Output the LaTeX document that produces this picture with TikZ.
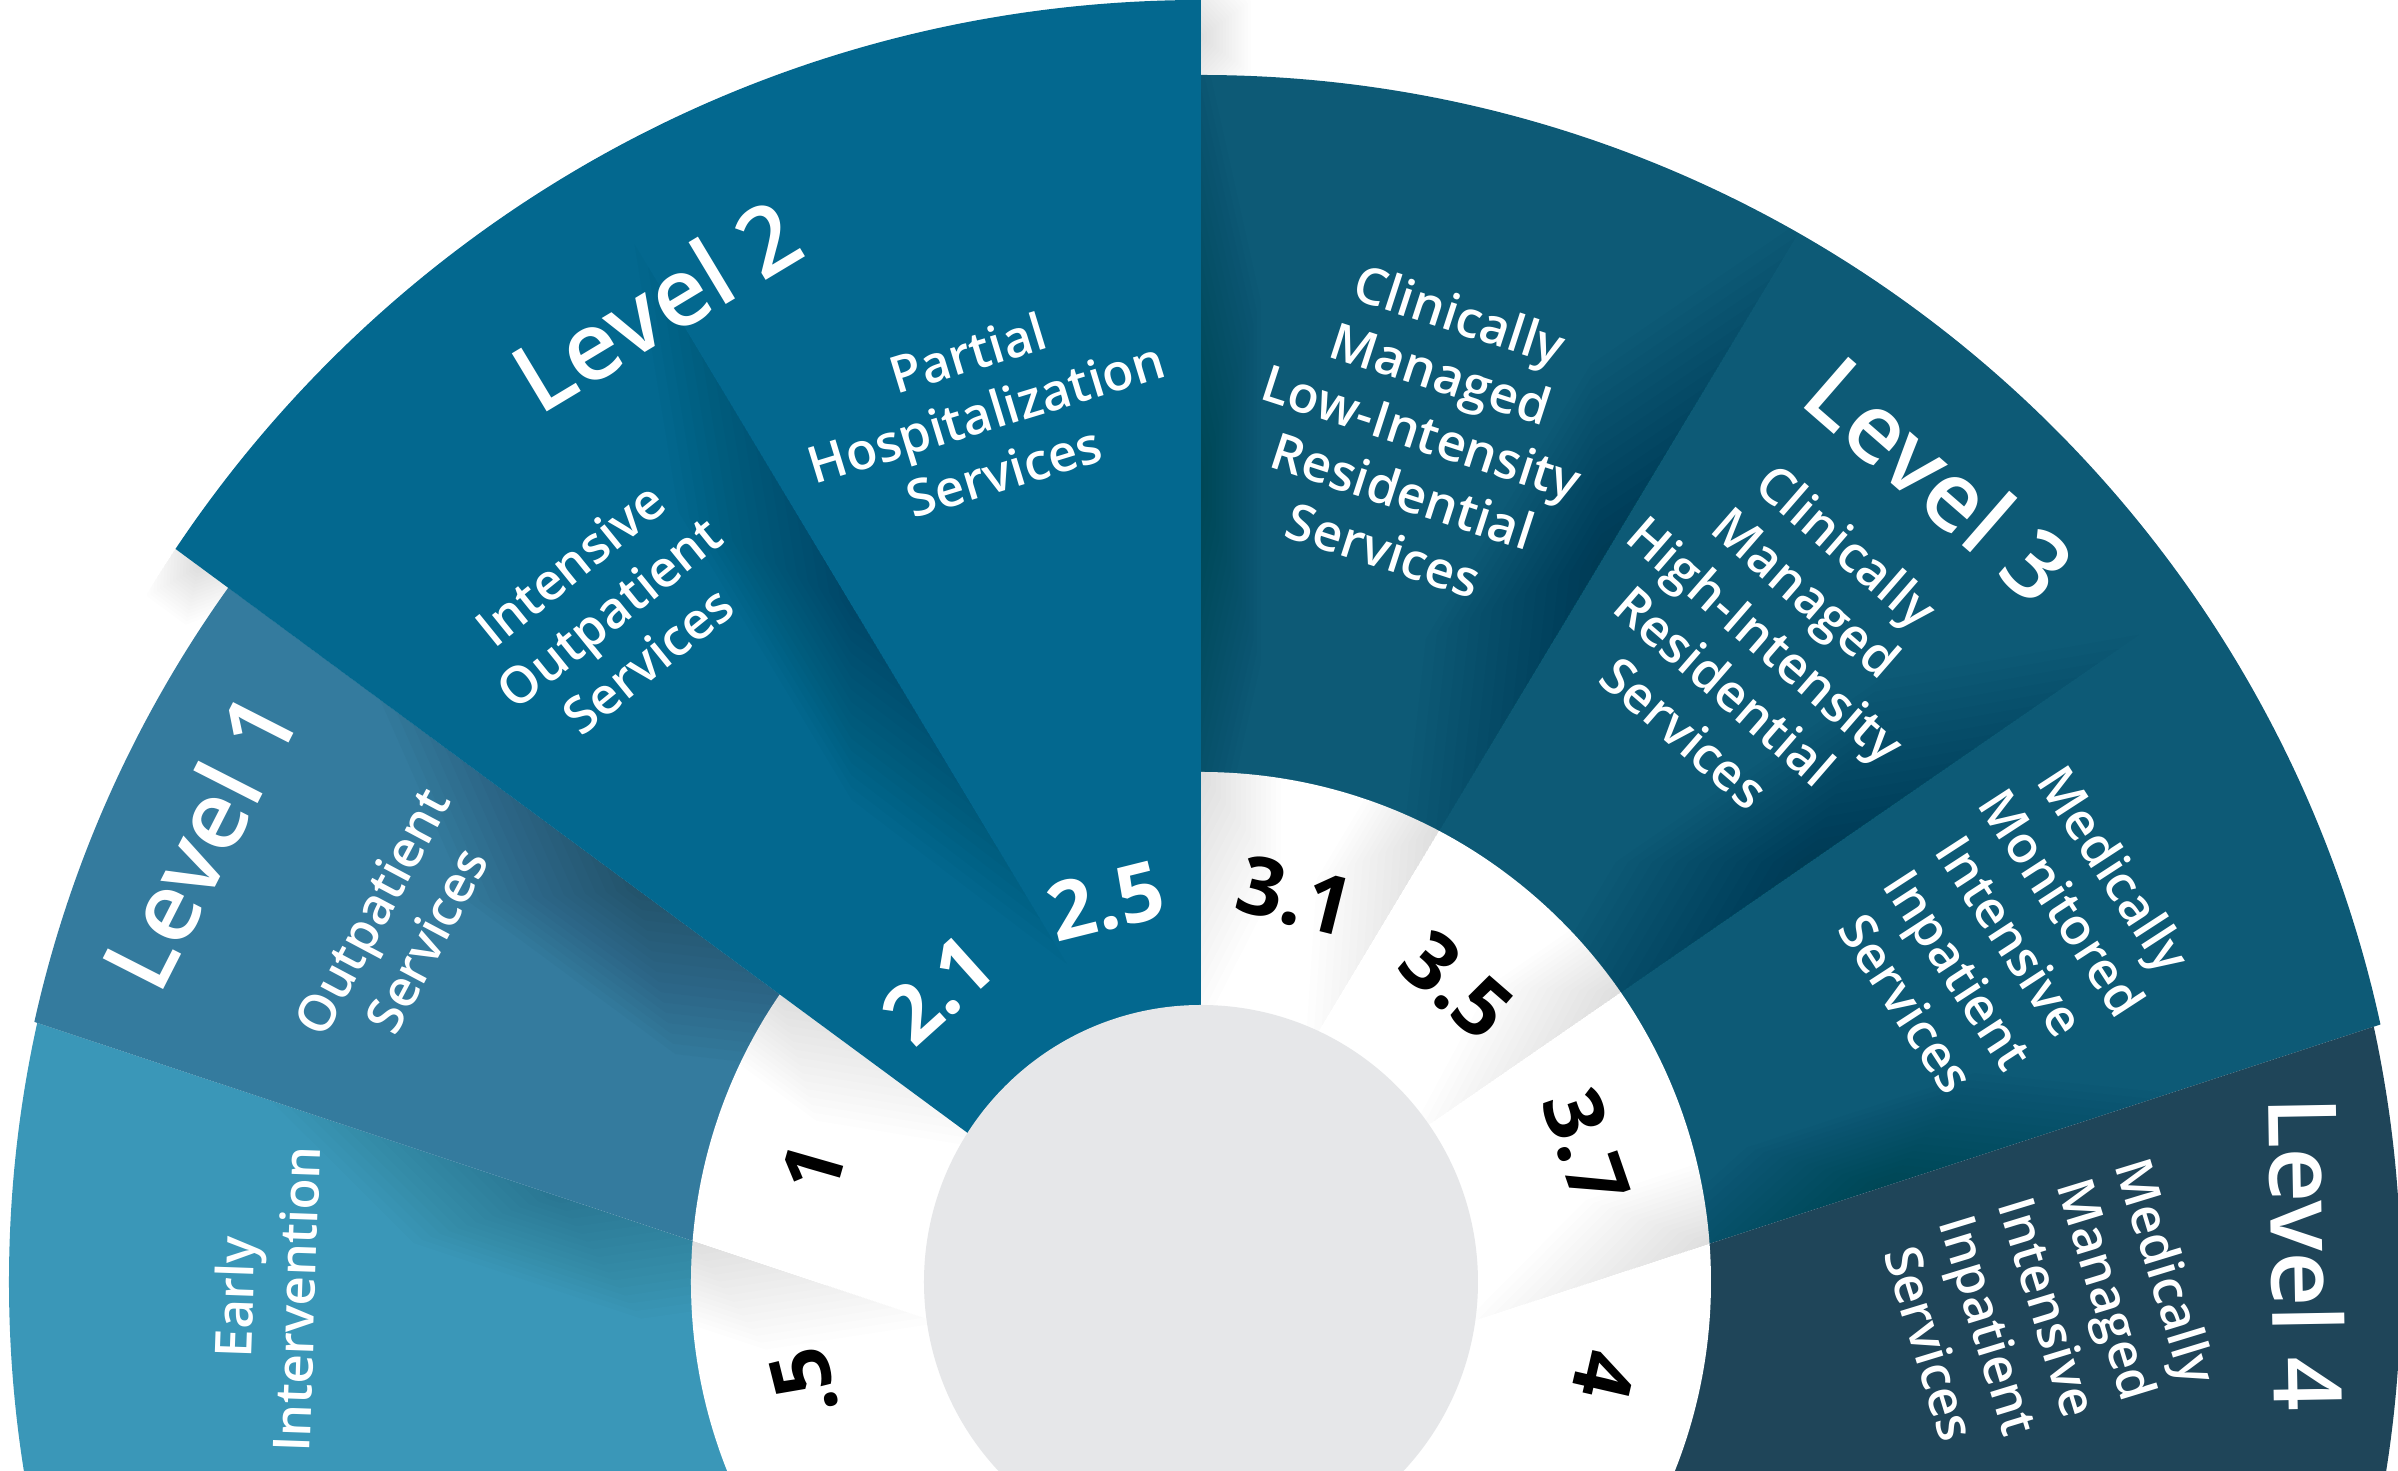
\documentclass[tikz,border=0pt]{standalone}
\usepackage{fontspec}
\setmainfont{Open Sans}
\IfFontExistsTF{Open Sans SemiBold}
  {\newfontfamily\labelfont{Open Sans SemiBold}}
  {\IfFontExistsTF{Open Sans Semibold}
    {\newfontfamily\labelfont{Open Sans Semibold}}
    {\newcommand{\labelfont}{\bfseries}}}

\definecolor{earlyblue}{HTML}{3A97B8}
\definecolor{levelone}{HTML}{347B9E}
\definecolor{leveltwo}{HTML}{03688F}
\definecolor{levelthree}{HTML}{0D5A76}
\definecolor{levelfour}{HTML}{1F4559}
\definecolor{hubgrey}{HTML}{E6E7E9}

% soft shadow along a boundary: apex, angle, middle, half length, width, opacity
\newcommand{\castshadow}[6]{%
  \begin{scope}[shift={#1}, rotate=#2]
    \foreach \k in {1,...,16}
      \fill[black, fill opacity=#6]
        ({#3-\k*#4/16},0) -- ({#3+\k*#4/16},0)
        -- ({#3+0.4*\k*#4/16},{\k*(#5)/16})
        -- ({#3-0.4*\k*#4/16},{\k*(#5)/16}) -- cycle;
  \end{scope}}

\begin{document}
\begin{tikzpicture}[x=0.1mm, y=0.1mm,
    sublabel/.style={text=white, align=center, inner sep=0pt,
      font=\fontsize{14.5}{17.6}\selectfont\labelfont},
    levellabel/.style={text=white, inner sep=0pt,
      font=\fontsize{27}{32}\selectfont\labelfont},
    ringnum/.style={inner sep=0pt,
      font=\fontsize{23}{26}\selectfont\bfseries}]
  \useasboundingbox (-1201,-189) rectangle (1197,1282);
  \clip (-1201,-189) rectangle (1197,1282);
  \coordinate (hub)        at (0,0);
  \coordinate (lowfocus)   at (0,-128);
  \coordinate (midfocus)   at (0,-23);
  \coordinate (twofocus)   at (0,95);
  \coordinate (threefocus) at (0,55);
  \coordinate (twocentre)  at (0,50);

  % level 2 overhang on the paper
  \begin{scope}
    \clip (twocentre) circle (1232);
    \castshadow{(midfocus)}{143.6}{1245}{60}{55}{0.007}
  \end{scope}
  \castshadow{(hub)}{90}{1245}{90}{-50}{0.008}

  % level 0.5
  \begin{scope}
    \clip (hub) circle (1192);
    \fill[earlyblue] (lowfocus) -- ++(161.6:1700) -- (-1700,-600) -- (0,-600) -- cycle;
    \castshadow{(lowfocus)}{161.6}{680}{300}{90}{0.012}
  \end{scope}

  % level 1
  \begin{scope}
    \clip (hub) circle (1195);
    \fill[levelone] (lowfocus) -- ++(161.6:1700) -- (-1368,986) -- (midfocus) -- cycle;
    \castshadow{(midfocus)}{143.6}{700}{320}{110}{0.018}
  \end{scope}

  % level 3
  \begin{scope}
    \clip (hub) circle (1207);
    \fill[levelthree] (lowfocus) -- ++(18.1:1700) -- (1700,1400) -- (0,1400) -- cycle;
    \castshadow{(hub)}{90}{800}{450}{-60}{0.010}
    \castshadow{(threefocus)}{59}{780}{400}{110}{0.016}
    \castshadow{(hub)}{34.6}{740}{400}{110}{0.016}
    \castshadow{(lowfocus)}{18.1}{720}{300}{80}{0.010}
  \end{scope}

  % level 4
  \begin{scope}
    \clip (hub) circle (1200);
    \fill[levelfour] (lowfocus) -- ++(18.1:1700) -- (1700,-600) -- (0,-600) -- cycle;
  \end{scope}

  % white ring
  \fill[white] (hub) circle (510);
  \begin{scope}
    \clip (hub) circle (510);
    \castshadow{(lowfocus)}{161.6}{536}{260}{80}{0.007}
    \castshadow{(midfocus)}{143.6}{523}{260}{80}{0.007}
    \castshadow{(hub)}{90}{510}{260}{-80}{0.007}
    \castshadow{(threefocus)}{59}{462}{260}{80}{0.007}
    \castshadow{(hub)}{34.6}{510}{260}{80}{0.007}
    \castshadow{(lowfocus)}{18.1}{535}{260}{80}{0.007}
  \end{scope}

  % level 2
  \begin{scope}
    \clip (twocentre) circle (1232);
    \clip (midfocus) -- ++(143.6:1700) -- (-1400,1400) -- (0,1400) -- cycle;
    \fill[leveltwo] (-1400,-200) rectangle (0,1400);
    \castshadow{(twofocus)}{121}{680}{420}{100}{0.016}
  \end{scope}

  % hub
  \fill[hubgrey] (hub) circle (277);

  % labels
  \node[sublabel, rotate=88]    (early)   at (-936,-16) {Early\\Intervention};
  \node[sublabel, rotate=62]    (outpat)  at (-802,356) {Outpatient\\Services};
  \node[levellabel, rotate=63]  (lvone)   at (-1002,441) {Level 1};
  \node[sublabel, rotate=39]    (intens)  at (-592,670) {Intensive\\Outpatient\\Services};
  \node[levellabel, rotate=31]  (lvtwo)   at (-545,977) {Level 2};
  \node[sublabel, rotate=17]    (partial) at (-215,870) {Partial\\Hospitalization\\Services};
  \node[sublabel, rotate=-18]   (lowint)  at (221,850) {Clinically\\Managed\\Low-Intensity\\Residential\\Services};
  \node[levellabel, rotate=-41] (lvthree) at (739,803) {Level 3};
  \node[sublabel, rotate=-41]   (highint) at (565,643) {Clinically\\Managed\\High-Intensity\\Residential\\Services};
  \node[sublabel, rotate=-57]   (monit)   at (810,346) {Medically\\Monitored\\Intensive\\Inpatient\\Services};
  \node[levellabel, rotate=-89] (lvfour)  at (1106,28) {Level 4};
  \node[sublabel, rotate=-73]   (managed) at (848,-25) {Medically\\Managed\\Intensive\\Inpatient\\Services};

  % ring numbers
  \node[ringnum, rotate=104]             (n05) at (-397,-101) {.5};
  \node[ringnum, rotate=74]              (n1)  at (-388,114) {1};
  \node[ringnum, text=white, rotate=42]  (n21) at (-263,292) {2.1};
  \node[ringnum, text=white, rotate=14]  (n25) at (-95,381) {2.5};
  \node[ringnum, rotate=-14]             (n31) at (94,386) {3.1};
  \node[ringnum, rotate=-41]             (n35) at (256,297) {3.5};
  \node[ringnum, rotate=-71]             (n37) at (385,135) {3.7};
  \node[ringnum, rotate=-103]            (n4)  at (403,-93) {4};
\end{tikzpicture}
\end{document}
